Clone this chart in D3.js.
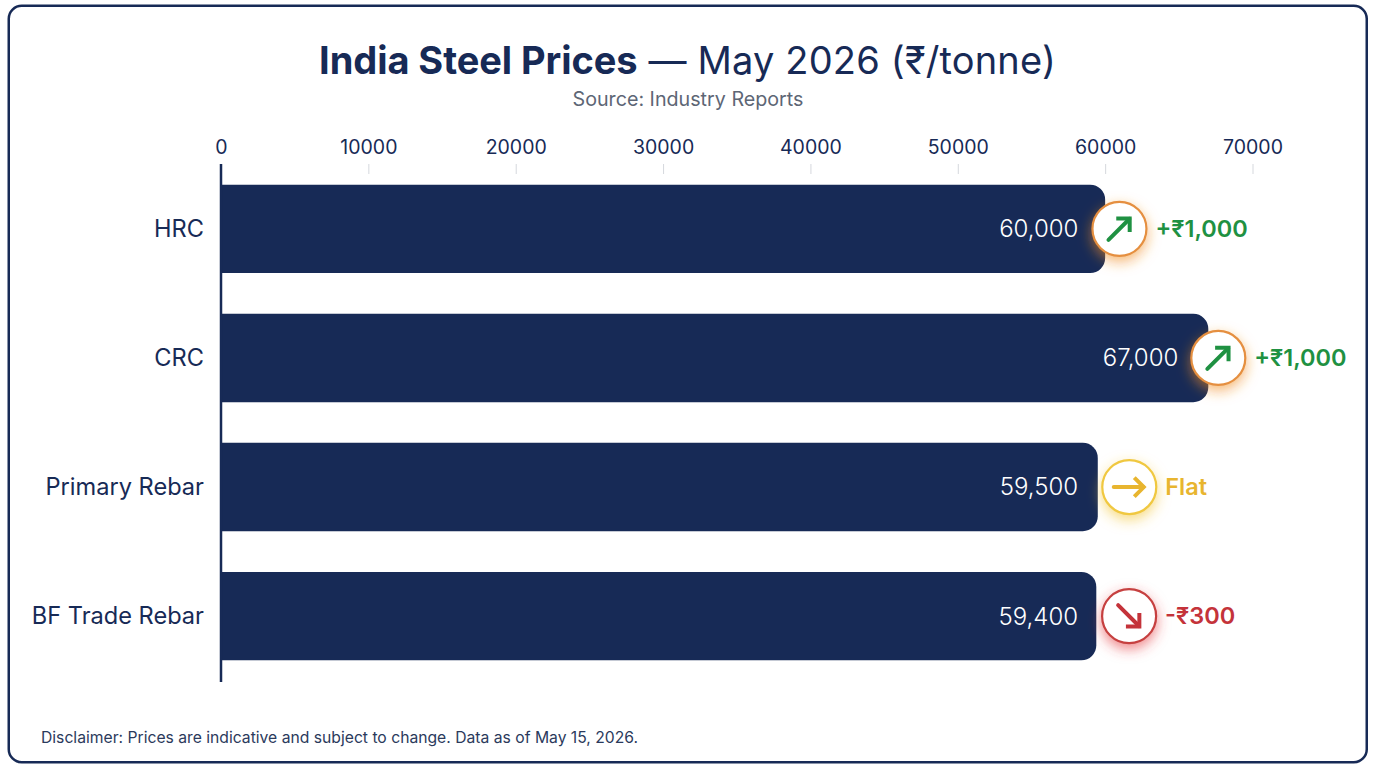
<!DOCTYPE html>
<html>
<head>
<meta charset="utf-8">
<script src="https://cdn.jsdelivr.net/npm/d3@7"></script>
<style>
  html, body { margin: 0; padding: 0; background: #fff; }
  svg { display: block; font-family: Inter, "Noto Sans", sans-serif; }
</style>
</head>
<body>
<svg id="chart" width="1376" height="768"></svg>
<script>
const categories = ["HRC", "CRC", "Primary Rebar", "BF Trade Rebar"];
const prices = [60000, 67000, 59500, 59400];
const priceLabels = ["60,000", "67,000", "59,500", "59,400"];
const trends = ["up", "up", "flat", "down"];
const changeLabels = ["+₹1,000", "+₹1,000", "Flat", "-₹300"];
const axisTicks = [0, 10000, 20000, 30000, 40000, 50000, 60000, 70000];

const navy = "#172a56";
const trendStyle = {
  up:   { color: "#1f9142", ring: "#e58f3f", glow: "#f08a24", rotate: -45 },
  flat: { color: "#e8b52f", ring: "#f0c840", glow: "#f3c530", rotate: 0 },
  down: { color: "#c4333a", ring: "#c6403f", glow: "#e5383b", rotate: 45 }
};

// Per-row distances from the bar end to the badge centre and to the price label
const badgeGap = [14.3, 10, 31.5, 32.8];
const priceGap = [26.7, 30, 19.6, 18.2];

const svg = d3.select("#chart");
const defs = svg.append("defs");
Object.entries(trendStyle).forEach(([key, s]) => {
  defs.append("filter")
    .attr("id", "glow-" + key)
    .attr("x", "-60%").attr("y", "-60%")
    .attr("width", "220%").attr("height", "220%")
    .append("feDropShadow")
    .attr("dx", 0).attr("dy", 5)
    .attr("stdDeviation", 6.5)
    .attr("flood-color", s.glow)
    .attr("flood-opacity", 0.6);
});

// Outer card
svg.append("rect")
  .attr("x", 8.75).attr("y", 5.75)
  .attr("width", 1358).attr("height", 756.5)
  .attr("rx", 13)
  .attr("fill", "#fff")
  .attr("stroke", navy)
  .attr("stroke-width", 2.5);

// Heading
const title = svg.append("text")
  .attr("x", 687.5).attr("y", 74)
  .attr("text-anchor", "middle")
  .attr("font-size", 38)
  .attr("fill", navy);
title.append("tspan").attr("font-weight", 700).attr("letter-spacing", "-0.06").text("India Steel Prices");
title.append("tspan").attr("font-weight", 400).attr("letter-spacing", "0.18").text(" — May 2026 (₹/tonne)");

svg.append("text")
  .attr("x", 688).attr("y", 105.5)
  .attr("text-anchor", "middle")
  .attr("font-size", 19.7)
  .attr("fill", "#5d6675")
  .text("Source: Industry Reports");

// Scales
const x = d3.scaleLinear().domain([0, 70000]).range([221, 1252.5]);
const y = d3.scaleBand().domain(categories).range([164, 681]).paddingInner(0.315).paddingOuter(0.16);

// Value axis along the top
const xAxis = svg.append("g")
  .attr("transform", "translate(0,174)")
  .call(d3.axisTop(x).tickValues(axisTicks).tickFormat(d3.format("d")).tickSize(10).tickPadding(10));
xAxis.select(".domain").remove();
xAxis.selectAll(".tick line").attr("stroke", "#d5d8dd").attr("stroke-width", 1);
xAxis.selectAll(".tick text")
  .attr("fill", navy)
  .attr("font-size", 19.5)
  .attr("font-family", "Inter, sans-serif");
xAxis.selectAll(".tick").filter(d => d === 0).select("line").remove();

// Bars: square on the left, rounded on the right
const radius = 15;
const barPath = d => {
  const p = d3.path();
  const x0 = x(0), x1 = x(prices[d]), y0 = y(categories[d]), y1 = y0 + y.bandwidth();
  p.moveTo(x0, y0);
  p.lineTo(x1 - radius, y0);
  p.arcTo(x1, y0, x1, y0 + radius, radius);
  p.lineTo(x1, y1 - radius);
  p.arcTo(x1, y1, x1 - radius, y1, radius);
  p.lineTo(x0, y1);
  p.closePath();
  return p.toString();
};
svg.append("g").selectAll("path")
  .data(d3.range(categories.length))
  .join("path")
  .attr("d", barPath)
  .attr("fill", navy);

// Baseline
svg.append("line")
  .attr("x1", x(0)).attr("x2", x(0))
  .attr("y1", 164).attr("y2", 682)
  .attr("stroke", navy)
  .attr("stroke-width", 2.5);

// Category labels
svg.append("g").selectAll("text")
  .data(categories)
  .join("text")
  .attr("x", 204)
  .attr("y", d => y(d) + y.bandwidth() / 2)
  .attr("dy", "0.35em")
  .attr("text-anchor", "end")
  .attr("font-size", 23.6)
  .attr("fill", navy)
  .text(d => d);

// One row of price label, trend badge and change label per bar
const rows = svg.append("g").selectAll("g")
  .data(d3.range(categories.length))
  .join("g")
  .attr("transform", d => `translate(${x(prices[d])},${y(categories[d]) + y.bandwidth() / 2})`);

rows.append("text")
  .attr("x", d => -priceGap[d])
  .attr("dy", "0.35em")
  .attr("text-anchor", "end")
  .attr("font-size", 24)
  .attr("font-weight", 300)
  .attr("fill", "#fff")
  .text(d => priceLabels[d]);

rows.append("circle")
  .attr("cx", d => badgeGap[d])
  .attr("r", 27)
  .attr("fill", "#fff")
  .attr("stroke", d => trendStyle[trends[d]].ring)
  .attr("stroke-width", 2.2)
  .attr("filter", d => `url(#glow-${trends[d]})`);

const arrows = rows.append("g")
  .attr("transform", d => `translate(${badgeGap[d]},0) rotate(${trendStyle[trends[d]].rotate})`)
  .attr("fill", "none")
  .attr("stroke", d => trendStyle[trends[d]].color)
  .attr("stroke-width", 4)
  .attr("stroke-linejoin", "miter");
arrows.append("path").attr("d", "M-15.5,0H14").attr("stroke-linecap", "round");
arrows.append("path").attr("d", "M5,-9.5L14.5,0L5,9.5").attr("stroke-linecap", "butt");

rows.append("text")
  .attr("x", d => badgeGap[d] + 36)
  .attr("dy", "0.35em")
  .attr("font-size", 23.5)
  .attr("font-weight", 600)
  .attr("fill", d => trendStyle[trends[d]].color)
  .text(d => changeLabels[d]);

// Footnote
svg.append("text")
  .attr("x", 41).attr("y", 743)
  .attr("font-size", 15.7)
  .attr("fill", "#2b3a5c")
  .text("Disclaimer: Prices are indicative and subject to change. Data as of May 15, 2026.");
</script>
</body>
</html>
